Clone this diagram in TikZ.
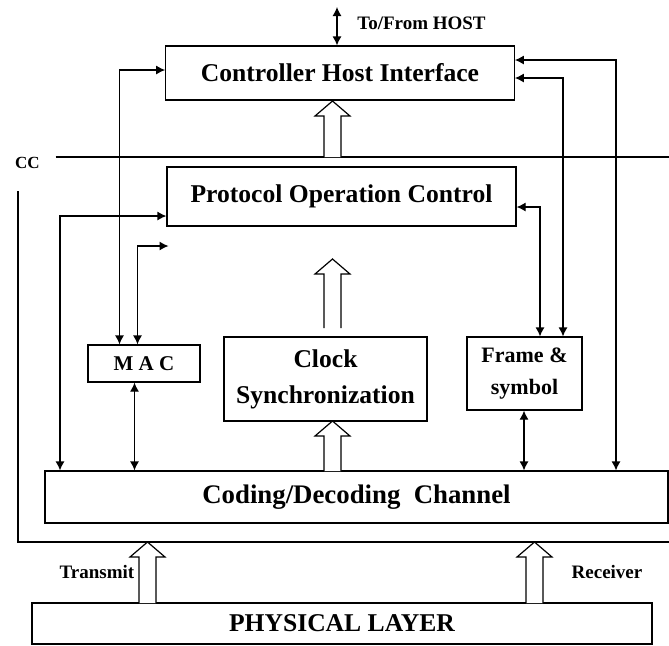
\documentclass[tikz,border=0pt]{standalone}
\usepackage{fontspec}
\setmainfont{Liberation Serif}
\usetikzlibrary{arrows.meta}
\tikzset{
  blk/.style={draw, line width=0.6pt, inner sep=0pt, align=center, font=\bfseries\fontsize{12.8}{18}\selectfont},
  lbl/.style={font=\bfseries\fontsize{9.5}{11}\selectfont},
  link/.style={draw, line width=0.6pt, <->, >={Latex[length=4.5pt,width=4.5pt]}}
}
\newcommand{\hollowarrow}[3]{%
  \draw[line width=0.6pt, fill=white] (#1-8.5,#2) -- (#1-8.5,#3+15) -- (#1-17.5,#3+15) -- (#1,#3)
    -- (#1+17.5,#3+15) -- (#1+8.5,#3+15) -- (#1+8.5,#2);}
\begin{document}
\begin{tikzpicture}[x=0.5pt,y=-0.5pt]
\useasboundingbox (0,0) rectangle (669,645);

\node[blk, minimum width=174.25pt, minimum height=27pt] (chi) at (340,73) {Controller Host Interface};
\node[blk, minimum width=174.5pt, minimum height=29.5pt] (poc) at (341.5,196.5) {Protocol Operation Control};
\node[blk, minimum width=56pt, minimum height=18.5pt, font=\bfseries\fontsize{10.5}{12}\selectfont] (mac) at (144,363.5) {M A C};
\node[blk, minimum width=101.5pt, minimum height=42pt] (clk) at (325.5,379) {Clock\\Synchronization};
\node[blk, minimum width=57.5pt, minimum height=36.5pt, font=\bfseries\fontsize{11}{16}\selectfont] (frm) at (524.5,373.5) {Frame \&\\symbol};
\node[blk, minimum width=311.5pt, minimum height=26pt, font=\bfseries\fontsize{13.4}{16}\selectfont] (cod) at (356.5,497) {Coding/Decoding~~Channel};
\node[blk, minimum width=310pt, minimum height=20.5pt] (phy) at (342,623.5) {PHYSICAL LAYER};

\node[lbl, font=\bfseries\fontsize{8.5}{10}\selectfont] (cc) at (27.5,163) {CC};
\node[lbl] (host) at (421.5,23) {To/From HOST};
\node[lbl] (tx) at (97,572) {Transmit};
\node[lbl] (rx) at (607,572) {Receiver};

\draw[line width=0.6pt] (55.5,157) -- (669,157);
\draw[line width=0.6pt] (18,191) |- (669,542);

\coordinate (hostx) at (337,7);
\coordinate (la) at (60,0);
\coordinate (lb) at (119.5,0);
\coordinate (lc) at (137.5,0);
\coordinate (ld) at (134.5,0);
\coordinate (re) at (524,0);
\coordinate (rf) at (540,0);
\coordinate (rg) at (563,0);
\coordinate (rh) at (616,0);
\coordinate (macto) at (168.5,246);

\path[link] (hostx) -- (hostx |- chi.north);
\path[link] ([yshift=1.5pt]chi.west) -| (lb |- mac.north);
\path[link] (macto) -| (lc |- mac.north);
\path[link] ([yshift=-9.75pt]poc.west) -| (la |- cod.north);
\path[link] (ld |- mac.south) -- (ld |- cod.north);
\path[link] ([yshift=6.5pt]chi.east) -| (rh |- cod.north);
\path[link] ([yshift=-2.5pt]chi.east) -| (rg |- frm.north);
\path[link] ([yshift=-5.25pt]poc.east) -| (rf |- frm.north);
\path[link] (re |- frm.south) -- (re |- cod.north);

\hollowarrow{332.5}{157}{101}
\hollowarrow{332.5}{328}{259}
\hollowarrow{332.5}{471}{421}
\hollowarrow{147.5}{603}{542}
\hollowarrow{534.5}{603}{542}
\end{tikzpicture}
\end{document}
